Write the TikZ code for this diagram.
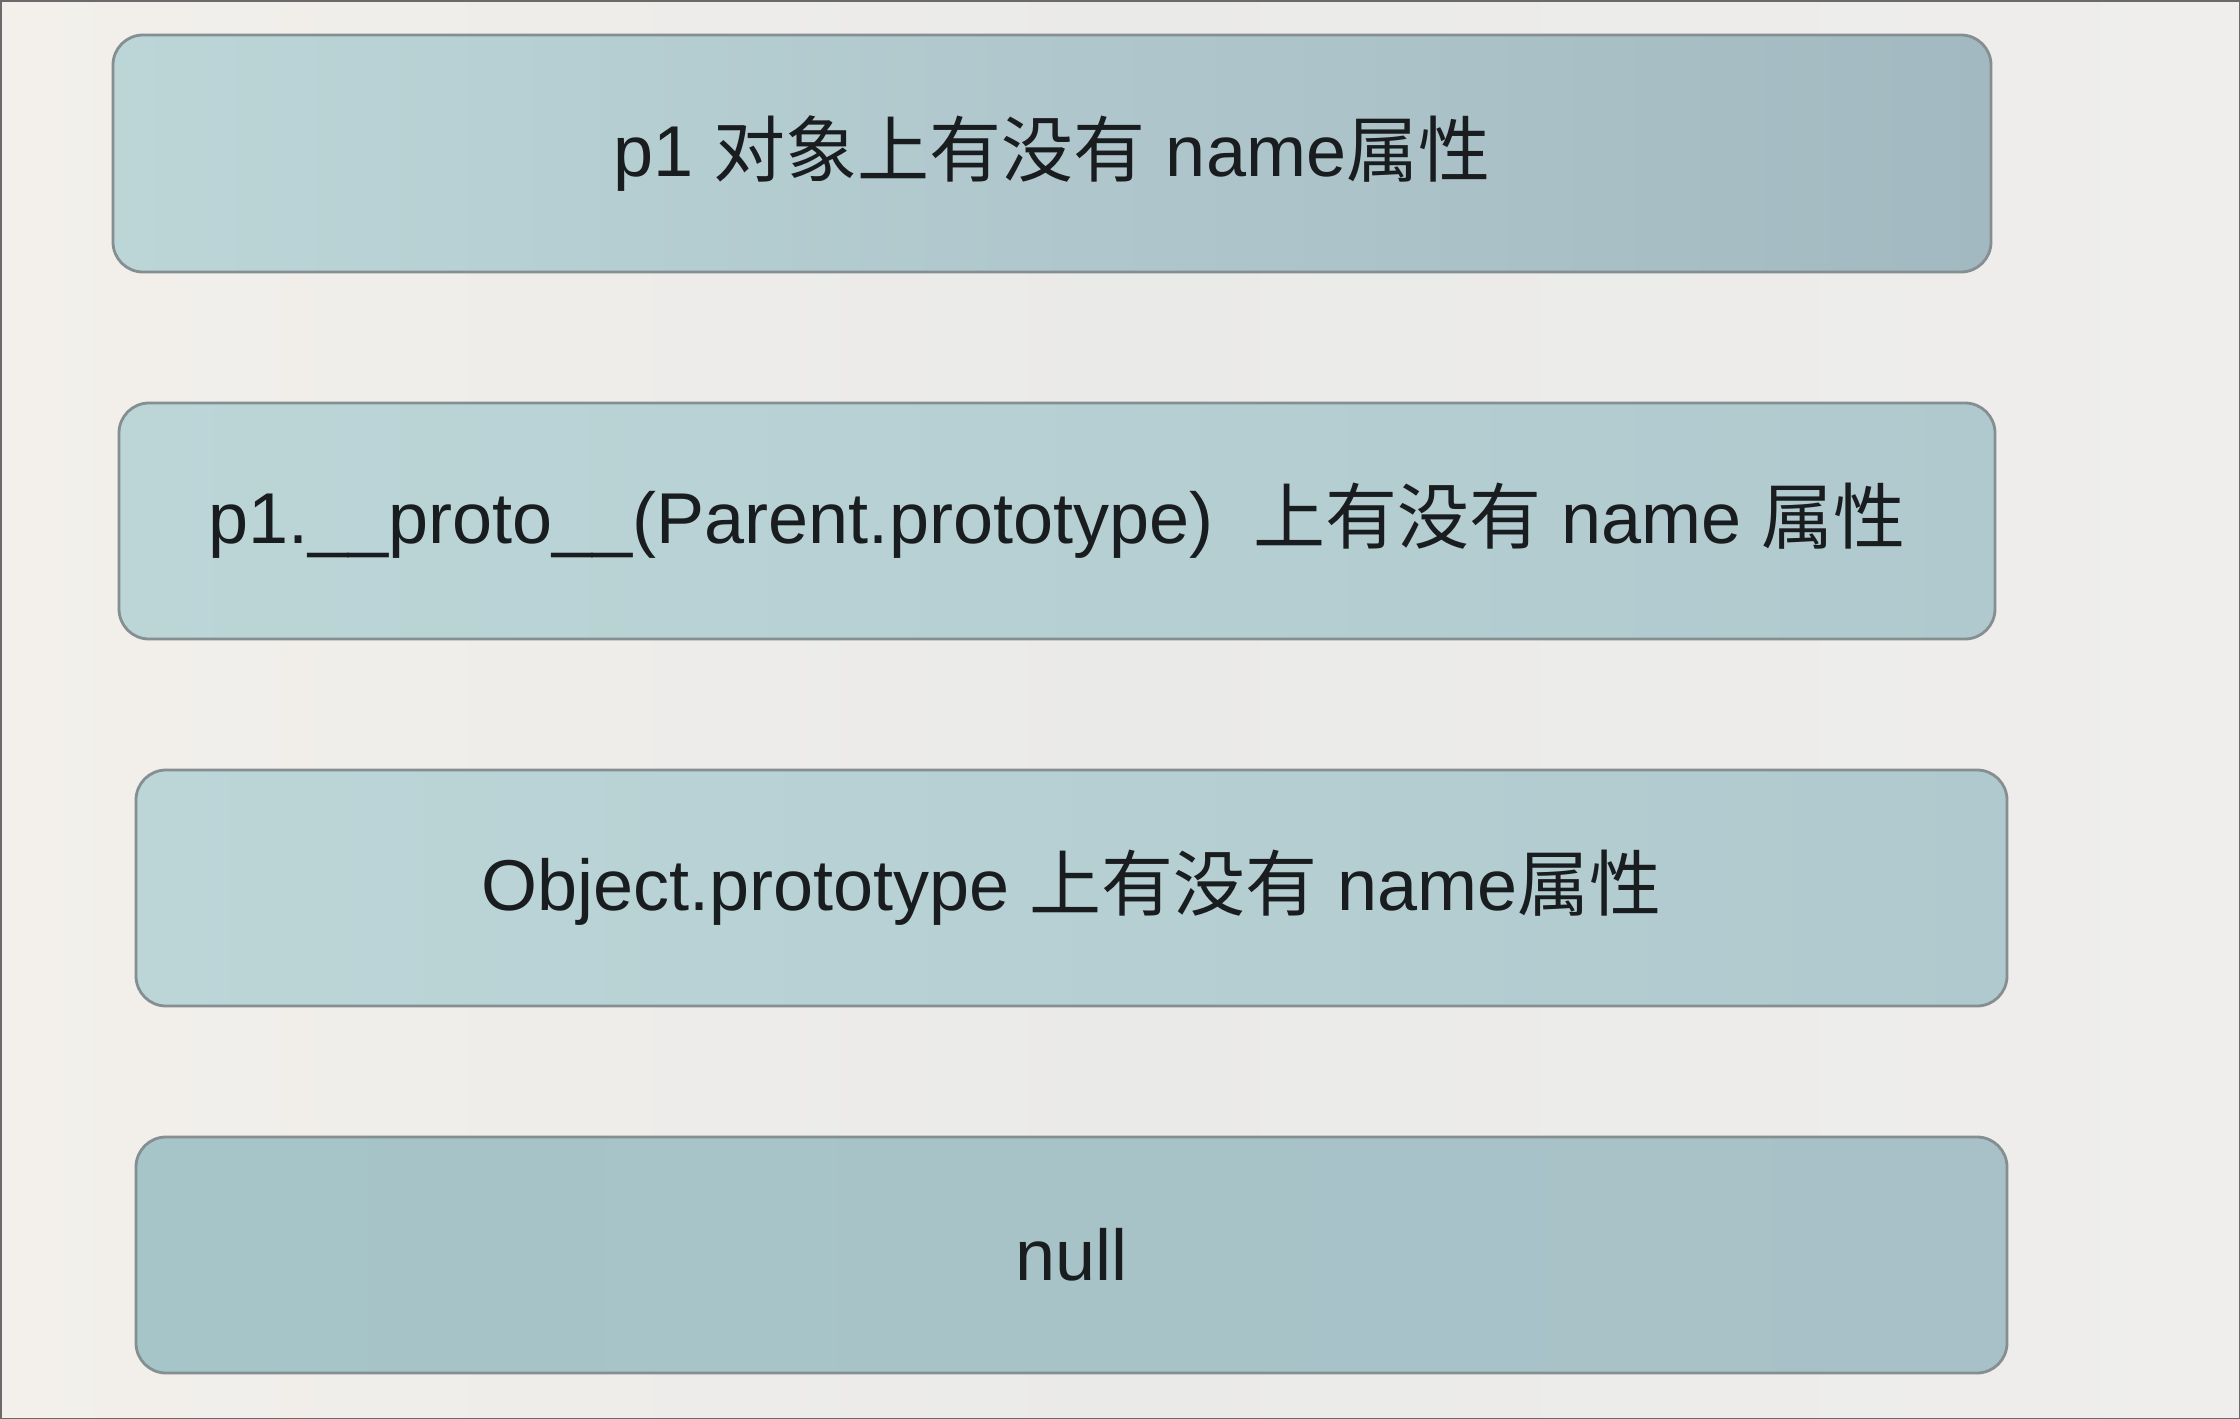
\documentclass[tikz,border=0pt]{standalone}
\usepackage{fontspec}
\setmainfont{Liberation Sans}
\newfontfamily\cjk{Noto Sans CJK SC}
\definecolor{bgc}{HTML}{EFEEEC}
\definecolor{bgl}{HTML}{F3F0EB}
\definecolor{bgm}{HTML}{EAEAE9}
\definecolor{boxl}{HTML}{BCD6D8}
\definecolor{boxr}{HTML}{A3B9C1}
\definecolor{boxm}{HTML}{B0C9CE}
\definecolor{boxb}{HTML}{A6C5C8}
\definecolor{boxbr}{HTML}{A8C1C8}
\definecolor{edge}{HTML}{858E90}
\definecolor{txt}{HTML}{1A1D1F}
\definecolor{frame}{HTML}{6A6A6A}
\tikzset{
  stepbox/.style={rounded corners=15pt, draw=edge, line width=1.4pt,
    left color=boxl, right color=boxm, text=txt,
    font=\fontsize{36}{43}\selectfont, inner sep=0pt},
}
\begin{document}
\begin{tikzpicture}[x=0.5pt,y=-0.5pt]
\fill[left color=bgl, right color=bgc, middle color=bgm] (0,0) rectangle (2240,1419);
\useasboundingbox (0,0) rectangle (2240,1419);
\node[stepbox, right color=boxr, minimum width=939pt, minimum height=118.5pt] (b1) at (1052,153.5)
  {p1 {\cjk 对象上有没有} name{\cjk 属性}};
\node[stepbox, minimum width=938pt, minimum height=118pt] (b2) at (1057,521)
  {p1.\_\_proto\_\_(Parent.prototype)\ \ {\cjk 上有没有} name {\cjk 属性}};
\node[stepbox, minimum width=935.5pt, minimum height=118pt] (b3) at (1071.5,888)
  {Object.prototype {\cjk 上有没有} name{\cjk 属性}};
\node[stepbox, left color=boxb, right color=boxbr, minimum width=935.5pt, minimum height=118pt] (b4) at (1071.5,1255)
  {null};
\draw[frame, line width=1.5pt] (0,0) rectangle (2240,1419);
\end{tikzpicture}
\end{document}
